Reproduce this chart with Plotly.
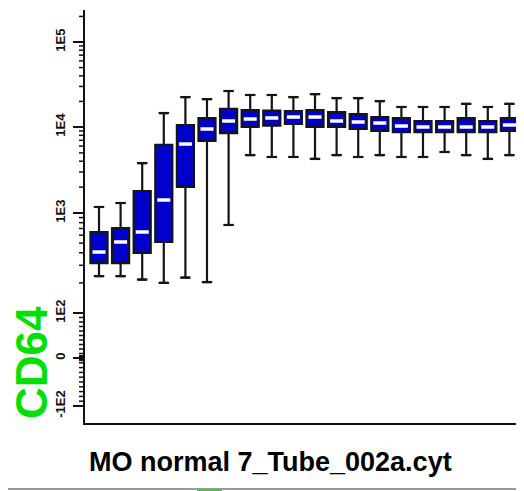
import numpy as np
import plotly.graph_objects as go

# ---------------- data (fluorescence values) ----------------
positions = list(range(20))  # 20 time/bin slices
upper_fence = [1175, 1307, 3810, 14600, 22500, 21300, 26500, 23800, 23800, 22500,
               24400, 21900, 21900, 20200, 17200, 17200, 17200, 18700, 17200, 18700]
q3_vals = [646, 708, 1802, 6180, 10560, 12760, 16300, 15840, 15600, 15400,
           15840, 15000, 14220, 13100, 12760, 11770, 11770, 12760, 11770, 12760]
median_vals = [407, 513, 646, 1416, 6340, 9480, 11770, 12420, 12760, 13100,
               13100, 11770, 11450, 11140, 10270, 10000, 10000, 10000, 10000, 10560]
q1_vals = [316, 316, 398, 513, 2005, 6870, 8510, 10000, 10400, 10850,
           10000, 10000, 9480, 8980, 8740, 8740, 8740, 8740, 8740, 8980]
lower_fence = [234, 234, 216, 200, 226, 204, 759, 4720, 4480, 4480,
               4250, 4720, 4480, 4720, 4480, 4480, 5120, 4720, 4250, 4720]

major_tick_values = [-100, 0, 100, 1000, 10000, 100000]
major_tick_labels = ["-1E2", "0", "1E2", "1E3", "1E4", "1E5"]

y_title = "CD64"
chart_title = "MO normal 7_Tube_002a.cyt"

# ---------------- logicle-like display scale ----------------
DECADE_LOGS = [2, 3, 4, 5]
DECADE_POS = [110, 210, 296, 381]
ZERO_POS = 65
POS_SLOPE = (DECADE_POS[0] - ZERO_POS) / 100.0
NEG_SLOPE = 0.48


def scale(v):
    v = np.asarray(v, dtype=float)
    big = v >= 100
    lv = np.log10(np.where(big, v, 100))
    hi = np.interp(lv, DECADE_LOGS, DECADE_POS)
    slope_top = DECADE_POS[-1] - DECADE_POS[-2]
    hi = np.where(lv > 5, DECADE_POS[-1] + (lv - 5) * slope_top, hi)
    lin = np.where(v >= 0, ZERO_POS + v * POS_SLOPE, ZERO_POS + v * NEG_SLOPE)
    return np.where(big, hi, lin)


minor_values = []
for k in range(2, 6):
    for m in range(2, 10):
        if k == 5 and m > 2:
            break
        minor_values.append(m * 10 ** k)
for m in range(10, 100, 10):
    minor_values += [m, -m]
for m in range(1, 6):
    minor_values += [m, -m]

x = np.array(positions, dtype=float)
Y_RANGE = [0, 413]
PLOT_W = 439
PLOT_H = 413

fig = go.Figure()
fig.add_trace(go.Box(
    x=x,
    q1=scale(q1_vals), median=scale(median_vals), q3=scale(q3_vals),
    lowerfence=scale(lower_fence), upperfence=scale(upper_fence),
    width=0.79,
    fillcolor="#0000CC",
    line=dict(color="#151515", width=2.2),
    boxpoints=False,
    hoverinfo="skip",
    showlegend=False,
))
for fence in (upper_fence, lower_fence):
    fig.add_trace(go.Scatter(
        x=x, y=scale(fence), mode="markers",
        marker=dict(symbol="line-ew", size=7.5, line=dict(color="#151515", width=2.2)),
        hoverinfo="skip", showlegend=False,
    ))
fig.add_trace(go.Scatter(
    x=x, y=scale(median_vals), mode="markers",
    marker=dict(symbol="line-ew", size=10.6, line=dict(color="#0000CC", width=3)),
    hoverinfo="skip", showlegend=False,
))
fig.add_trace(go.Scatter(
    x=x, y=scale(median_vals), mode="markers",
    marker=dict(symbol="line-ew", size=9.3, line=dict(color="white", width=3.5)),
    hoverinfo="skip", showlegend=False,
))

# ticks as short lines just left of the y axis (minor 6px, major 10px)
tick_shapes = [
    dict(type="line", xref="paper", yref="y", x0=-6 / PLOT_W, x1=0, y0=yv, y1=yv,
         line=dict(color="#111111", width=1.5), layer="above")
    for yv in scale(minor_values)
] + [
    dict(type="line", xref="paper", yref="y", x0=-10 / PLOT_W, x1=0, y0=yv, y1=yv,
         line=dict(color="#111111", width=2), layer="above")
    for yv in scale(major_tick_values)
]

fig.update_layout(
    width=516, height=483,
    margin=dict(l=77, r=0, t=2, b=68, autoexpand=False),
    paper_bgcolor="white", plot_bgcolor="white",
    showlegend=False,
    xaxis=dict(
        range=[-0.648, 19.676], showline=True, linecolor="#111111", linewidth=2,
        showgrid=False, zeroline=False, showticklabels=False, ticks="", automargin=False,
    ),
    yaxis=dict(
        range=Y_RANGE, showline=True, linecolor="#111111", linewidth=2,
        showgrid=False, zeroline=False, automargin=False,
        tickmode="array", tickvals=scale(major_tick_values), ticktext=major_tick_labels,
        ticks="outside", ticklen=10, tickwidth=2, tickcolor="#111111",
        tickangle=-90, ticklabelstandoff=3,
        tickfont=dict(family="Liberation Sans, Arial", size=13, color="#111111", weight="bold"),
    ),
    annotations=[
        dict(text=y_title, xref="paper", yref="paper", x=(31 - 85) / PLOT_W, y=(423 - 363) / PLOT_H,
             xanchor="center", yanchor="middle", textangle=-90, showarrow=False,
             font=dict(family="Liberation Sans, Arial", size=44, color="#00E000", weight="bold")),
        dict(text=chart_title, xref="paper", yref="paper", x=(270.5 - 85) / PLOT_W, y=-(462 - 423) / PLOT_H,
             xanchor="center", yanchor="middle", showarrow=False,
             font=dict(family="Liberation Sans, Arial", size=27, color="#000000", weight="bold")),
    ],
    shapes=tick_shapes + [
        dict(type="line", xref="paper", yref="paper", x0=-85 / PLOT_W, x1=1,
             y0=-(489 - 423) / PLOT_H, y1=-(489 - 423) / PLOT_H,
             line=dict(color="#9a9a9a", width=2)),
        dict(type="line", xref="paper", yref="paper", x0=(197 - 85) / PLOT_W, x1=(222 - 85) / PLOT_W,
             y0=-(490.5 - 423) / PLOT_H, y1=-(490.5 - 423) / PLOT_H,
             line=dict(color="#33CC33", width=2)),
    ],
)

fig.write_html("out.html")
